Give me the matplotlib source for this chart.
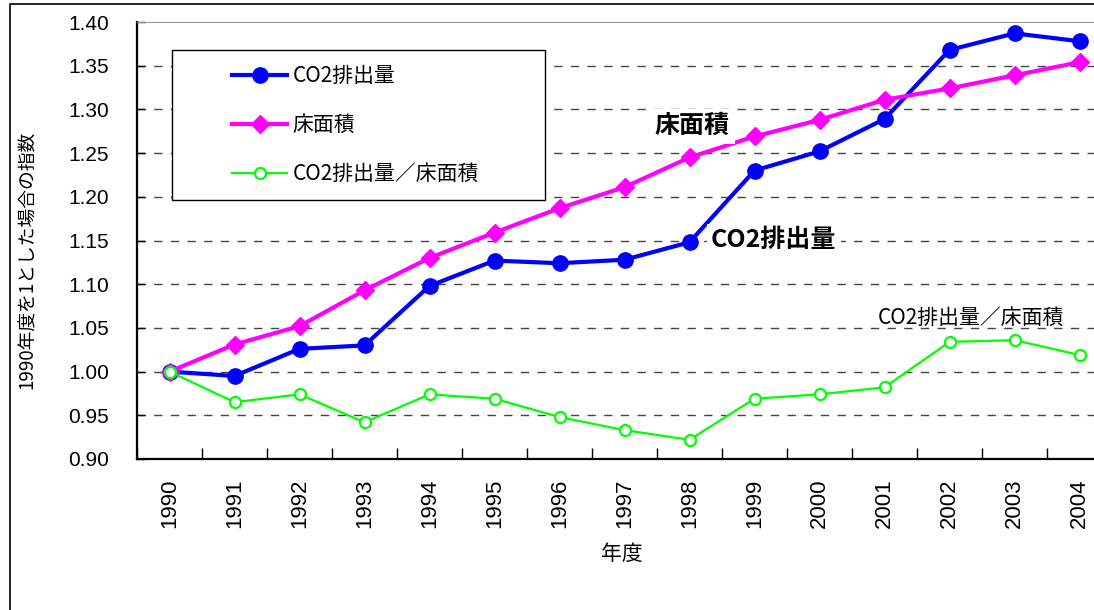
import numpy as np
import matplotlib.pyplot as plt
from matplotlib.lines import Line2D
from matplotlib.patches import Rectangle

plt.rcParams['font.family'] = ['Noto Sans CJK JP', 'DejaVu Sans']

# data
years = ['1990', '1991', '1992', '1993', '1994', '1995', '1996', '1997',
         '1998', '1999', '2000', '2001', '2002', '2003', '2004']
co2 = [1.000, 0.995, 1.026, 1.030, 1.098, 1.127, 1.124, 1.128,
       1.148, 1.230, 1.252, 1.289, 1.368, 1.387, 1.378]
floor_area = [1.000, 1.031, 1.052, 1.093, 1.130, 1.159, 1.187, 1.211,
              1.245, 1.269, 1.288, 1.311, 1.324, 1.339, 1.354]
co2_per_area = [1.000, 0.965, 0.974, 0.942, 0.974, 0.969, 0.948, 0.933,
                0.922, 0.969, 0.974, 0.982, 1.034, 1.036, 1.019]
yticks = [0.90, 0.95, 1.00, 1.05, 1.10, 1.15, 1.20, 1.25, 1.30, 1.35, 1.40]

W, H = 1094, 610
fig = plt.figure(figsize=(W / 100, H / 100), dpi=100)

# outer chart-area frame
fig.patches.append(Rectangle((10 / W, -0.1), 1.2, 1 - 4 / H + 0.1,
                             transform=fig.transFigure, fill=False,
                             edgecolor='black', linewidth=1.2))

ax = fig.add_axes([137 / W, 1 - 459 / H, (1112 - 137) / W, (459 - 22) / H])
x = np.arange(len(years))

blue_style = dict(color='#0000FF', lw=3, marker='o', ms=11)
pink_style = dict(color='#FF00FF', lw=3, marker='D', ms=9)
green_style = dict(color='#00FF00', lw=1.6, marker='o', ms=8,
                   markerfacecolor='white', markeredgewidth=1.6)

ax.plot(x, co2, zorder=3, **blue_style)
ax.plot(x, floor_area, zorder=3, **pink_style)
ax.plot(x, co2_per_area, zorder=3, **green_style)

ax.set_xlim(-0.5, len(years) - 0.5)
ax.set_ylim(0.90, 1.40)
ax.set_yticks(yticks)
ax.set_yticklabels([f'{v:.2f}' for v in yticks], family='Liberation Sans', fontsize=15)
ax.set_xticks(x)
ax.set_xticklabels(years, rotation=90, family='Liberation Sans', fontsize=16)
ax.set_xticks(np.arange(len(years) + 1) - 0.5, minor=True)
ax.tick_params(axis='x', which='major', length=0, pad=14)
ax.tick_params(axis='x', which='minor', direction='in', length=8, width=1)
ax.tick_params(axis='y', direction='in', length=6, width=1, pad=20)

for v in yticks[1:-1]:
    ax.axhline(v, color='#444444', lw=1, dashes=(6, 6), zorder=1)

for s in ['left', 'bottom']:
    ax.spines[s].set_linewidth(1.6)
ax.spines['top'].set_color('#999999')
ax.spines['right'].set_visible(False)

fig.text(622 / W, 1 - 554 / H, '年度', ha='center', va='center', fontsize=15)
fig.text(27 / W, 1 - 260 / H, '1990年度を1とした場合の指数', rotation=90,
         ha='center', va='center', fontsize=13.5)

# inline labels
ax.text(8.62, 1.281, '床面積', fontsize=18, fontweight='bold', ha='right', va='center',
        bbox=dict(facecolor='white', edgecolor='none', pad=4), zorder=4)
ax.text(8.33, 1.1505, 'CO2排出量', fontsize=18, fontweight='bold', ha='left', va='center',
        bbox=dict(facecolor='white', edgecolor='none', pad=3), zorder=4)
ax.text(12.33, 1.062, 'CO2排出量／床面積', fontsize=15, ha='center', va='center', zorder=4)

# legend: box drawn separately, entries placed inside it
fig.patches.append(Rectangle((172 / W, 1 - 200 / H), (545 - 172) / W, 150 / H,
                             transform=fig.transFigure, facecolor='white',
                             edgecolor='black', linewidth=1, zorder=5))
handles = [Line2D([], [], **blue_style), Line2D([], [], **pink_style),
           Line2D([], [], **green_style)]
leg = fig.legend(handles, ['CO2排出量', '床面積', 'CO2排出量／床面積'],
                 loc='center left', bbox_to_anchor=(232 / W, 1 - 125 / H),
                 fontsize=15, frameon=False, handlelength=2.65, handletextpad=0.25,
                 labelspacing=1.3, borderpad=0, borderaxespad=0)
leg.set_zorder(6)

fig.savefig('out.png', dpi=100)
